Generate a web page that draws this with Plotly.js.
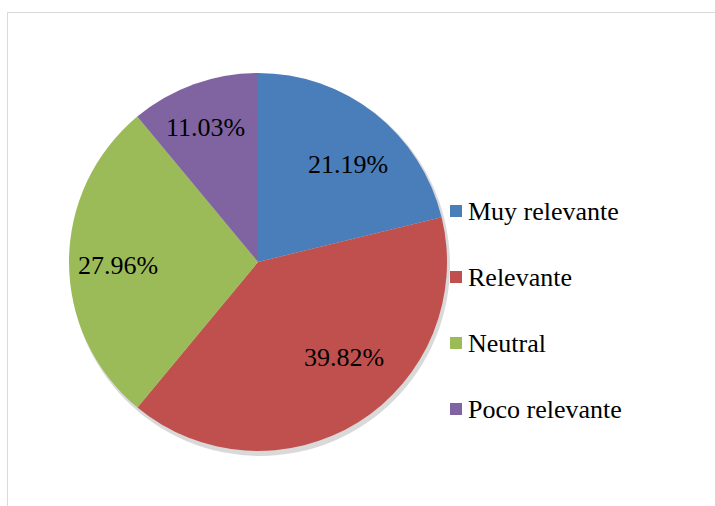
<!DOCTYPE html>
<html><head><meta charset="utf-8">
<script src="https://cdn.plot.ly/plotly-3.0.1.min.js"></script>
<style>
html,body{margin:0;padding:0;background:#fff;}
#c{width:715px;height:506px;}
#c text{font-family:"Liberation Serif","Times New Roman",serif !important;}
</style>
</head><body><div id="c"></div>
<script>
const labels = ["Muy relevante", "Relevante", "Neutral", "Poco relevante"];
const values = [21.19, 39.82, 27.96, 11.03];
const textLabels = ["21.19%", "39.82%", "27.96%", "11.03%"];
const colors = ["#4a7ebb", "#c0504d", "#9bbb59", "#8064a2"];
// label placement (style): angle tweak in degrees and radial fraction
const labelAngleAdj = [4.5, -10.2, -1.2, -1.3];
const labelRadFrac = [0.70, 0.68, 0.74, 0.765];

const W = 715, H = 506;
const cx = 258, cy = 262, r = 189;
const FAM = "Liberation Serif";

const trace = {
  type: "pie",
  labels: labels,
  values: values,
  textinfo: "none",
  sort: false,
  direction: "clockwise",
  rotation: 0,
  marker: {colors: colors, line: {width: 0}},
  domain: {x: [(cx - r) / W, (cx + r) / W], y: [(H - cy - r) / H, (H - cy + r) / H]},
  hoverinfo: "label+percent"
};

const shapes = [
  {type: "rect", xref: "paper", yref: "paper", x0: 7.5 / W, x1: 1.02, y0: -0.02, y1: (H - 12.5) / H,
   line: {color: "#d9d9d9", width: 1}, fillcolor: "rgba(0,0,0,0)", layer: "below"},
  {type: "circle", xref: "paper", yref: "paper", x0: (cx - r + 1) / W, x1: (cx + r + 3) / W,
   y0: (H - cy - r - 5) / H, y1: (H - cy + r - 1) / H,
   line: {width: 0}, fillcolor: "rgba(0,0,0,0.15)", layer: "below"}
];
const annotations = [];
// data labels at slice mid-angles derived from values
const total = values.reduce((a, b) => a + b, 0);
let cum = 0;
values.forEach((v, i) => {
  const mid = (cum + v / 2) / total * 360 + labelAngleAdj[i];
  cum += v;
  const a = mid * Math.PI / 180;
  const d = labelRadFrac[i] * r;
  const px = cx + d * Math.sin(a), py = cy - d * Math.cos(a);
  annotations.push({xref: "paper", yref: "paper", x: px / W, y: (H - py) / H,
    xanchor: "center", yanchor: "middle", showarrow: false, text: textLabels[i],
    font: {family: FAM, size: 26, color: "#000"}});
});
const legendX = 450, legendY0 = 211, legendGap = 66, sq = 12;
labels.forEach((lab, i) => {
  const y = legendY0 + i * legendGap;
  shapes.push({type: "rect", xref: "paper", yref: "paper",
    x0: legendX / W, x1: (legendX + sq) / W, y0: (H - y - sq / 2) / H, y1: (H - y + sq / 2) / H,
    line: {width: 0}, fillcolor: colors[i]});
  annotations.push({xref: "paper", yref: "paper", x: (legendX + sq + 4) / W, y: (H - y) / H,
    xanchor: "left", yanchor: "middle", showarrow: false, text: lab,
    font: {family: FAM, size: 26, color: "#000"}});
});

const layout = {
  width: W, height: H,
  margin: {l: 0, r: 0, t: 0, b: 0},
  paper_bgcolor: "#fff",
  showlegend: false,
  shapes: shapes,
  annotations: annotations,
  font: {family: FAM}
};
Plotly.newPlot("c", [trace], layout, {displayModeBar: false, staticPlot: true});
</script></body></html>
